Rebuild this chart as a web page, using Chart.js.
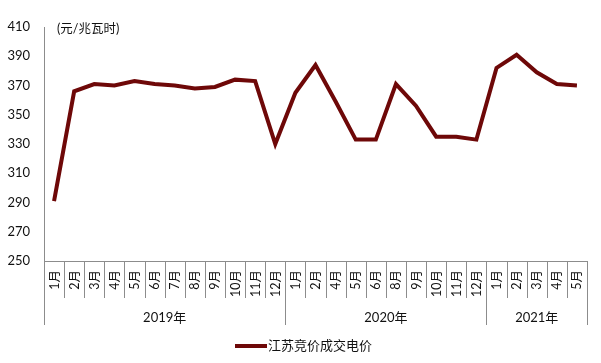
<!DOCTYPE html>
<html><head><meta charset="utf-8">
<script src="https://cdn.jsdelivr.net/npm/chart.js@4/dist/chart.umd.min.js"></script>
<style>html,body{margin:0;padding:0;background:#fff;}#wrap{width:601px;height:363px;}</style>
</head><body><div id="wrap"><canvas id="c" width="601" height="363"></canvas></div>
<script>
const months = ['1月','2月','3月','4月','5月','6月','7月','8月','9月','10月','11月','12月',
  '1月','2月','4月','5月','6月','8月','9月','10月','11月','12月',
  '1月','2月','3月','4月','5月'];
const years = ['2019年','2020年','2021年'];
const yearCounts = [12,10,5];
const prices = [291,366,371,370,373,371,370,368,369,374,373,330,
  365,384,359,333,333,371,356,335,335,333,
  382,391,379,371,370];
const seriesName = '江苏竞价成交电价';
const unitLabel = '(元/兆瓦时)';
const yMin = 250, yMax = 410, yStep = 20;

const LINE_COLOR = '#6E0808';
const AXIS_COLOR = '#8C8C8C';
const TEXT_COLOR = '#111';
const FONT = "Lato, 'Noto Sans CJK SC', sans-serif";

const multiLevel = {
  id: 'multiLevel',
  afterDraw(chart) {
    const ctx = chart.ctx;
    const xs = chart.scales.x;
    const area = chart.chartArea;
    const n = months.length;
    const w = (xs.right - xs.left) / n;
    const base = area.bottom;
    ctx.save();
    ctx.strokeStyle = AXIS_COLOR;
    ctx.lineWidth = 1;
    const yearBounds = [0];
    let acc = 0;
    yearCounts.forEach(c => { acc += c; yearBounds.push(acc); });
    for (let i = 0; i <= n; i++) {
      const x = Math.round(xs.left + i * w) + 0.5;
      const isYear = yearBounds.includes(i);
      ctx.beginPath();
      ctx.moveTo(x, base);
      ctx.lineTo(x, isYear ? base + 64 : base + 37);
      ctx.stroke();
    }
    // month labels
    ctx.fillStyle = TEXT_COLOR;
    ctx.font = "12.5px " + FONT;
    ctx.textAlign = 'right';
    ctx.textBaseline = 'middle';
    months.forEach((m, i) => {
      const x = xs.getPixelForValue(i);
      ctx.save();
      ctx.translate(x + 0.5, base + 9);
      ctx.rotate(-Math.PI / 2);
      ctx.fillText(m, 0, 0);
      ctx.restore();
    });
    // year labels
    ctx.textAlign = 'center';
    ctx.font = "13px " + FONT;
    years.forEach((y, k) => {
      const x0 = xs.left + yearBounds[k] * w;
      const x1 = xs.left + yearBounds[k + 1] * w;
      ctx.fillText(y, (x0 + x1) / 2, base + 57);
    });
    // unit label
    ctx.textAlign = 'left';
    ctx.font = "12.5px " + FONT;
    ctx.fillText(unitLabel, area.left + 13, area.top + 2);
    // legend
    const ly = 346;
    ctx.strokeStyle = LINE_COLOR;
    ctx.lineWidth = 4;
    ctx.beginPath();
    ctx.moveTo(235, ly);
    ctx.lineTo(267, ly);
    ctx.stroke();
    ctx.font = "13px " + FONT;
    ctx.fillText(seriesName, 268, ly);
    ctx.restore();
  }
};

new Chart(document.getElementById('c'), {
  type: 'line',
  data: {
    labels: months,
    datasets: [{
      label: seriesName,
      data: prices,
      borderColor: LINE_COLOR,
      backgroundColor: LINE_COLOR,
      borderWidth: 4,
      pointRadius: 0,
      tension: 0,
      borderJoinStyle: 'miter',
      borderCapStyle: 'butt'
    }]
  },
  options: {
    responsive: false,
    animation: false,
    devicePixelRatio: 1,
    layout: { padding: { left: 0, right: 14, top: 27, bottom: 0 } },
    plugins: { legend: { display: false }, tooltip: { enabled: false } },
    scales: {
      x: {
        type: 'category',
        offset: true,
        grid: { display: false },
        border: { display: true, color: AXIS_COLOR, width: 1 },
        ticks: { display: false },
        afterFit(s) { s.height = 102; }
      },
      y: {
        min: yMin, max: yMax,
        grid: { display: false, drawTicks: false },
        border: { display: true, color: AXIS_COLOR, width: 1 },
        ticks: { stepSize: yStep, padding: 14, color: TEXT_COLOR, font: { family: FONT, size: 13 } },
        afterFit(s) { s.width = 44; }
      }
    }
  },
  plugins: [multiLevel]
});
</script></body></html>
